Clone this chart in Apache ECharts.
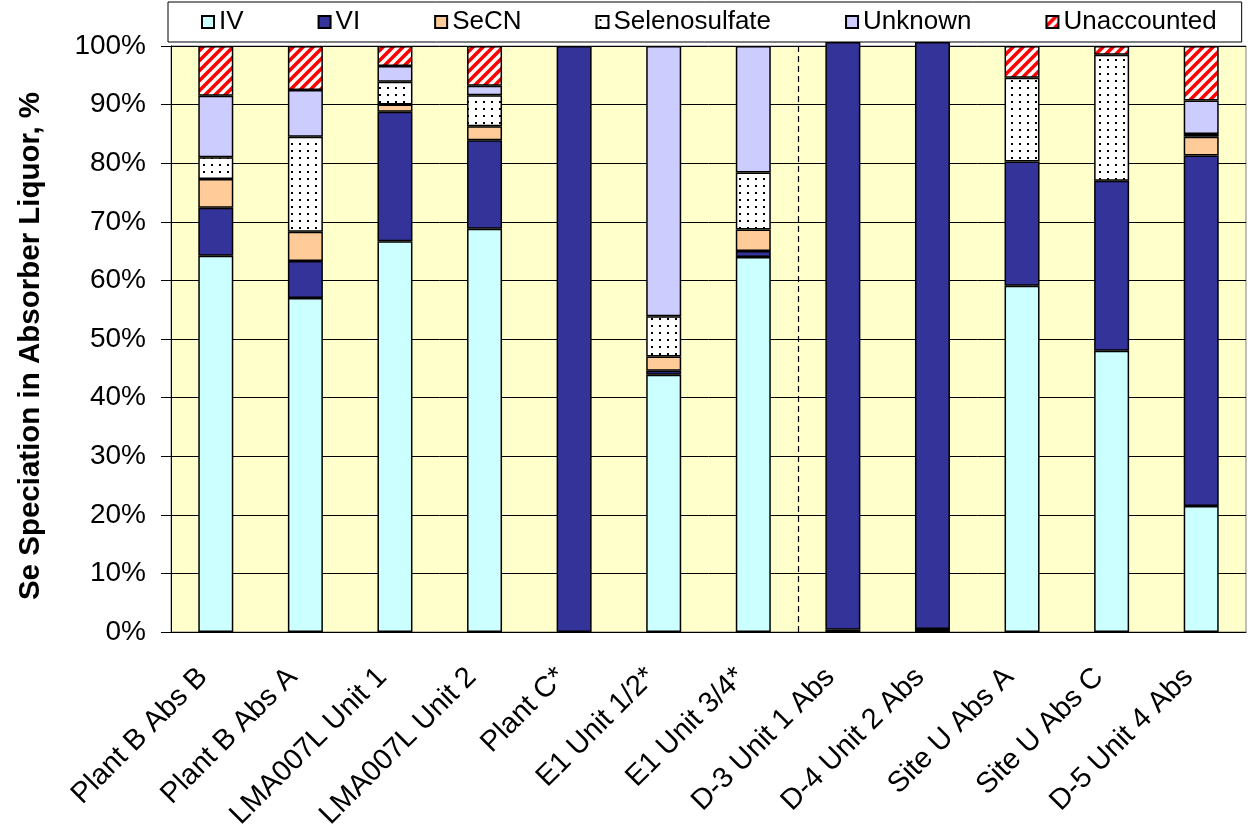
<!DOCTYPE html>
<html>
<head>
<meta charset="utf-8">
<script src="https://cdn.jsdelivr.net/npm/echarts@6/dist/echarts.min.js"></script>
<style>
html,body{margin:0;padding:0;background:#fff;}
#chart{width:1251px;height:837px;}
</style>
</head>
<body>
<div id="chart"></div>
<script>
var categories = ["Plant B Abs B","Plant B Abs A","LMA007L Unit 1","LMA007L Unit 2","Plant C*","E1 Unit 1/2*","E1 Unit 3/4*","D-3 Unit 1 Abs","D-4 Unit 2 Abs","Site U Abs A","Site U Abs C","D-5 Unit 4 Abs"];
var seriesNames = ["IV","VI","SeCN","Selenosulfate","Unknown","Unaccounted"];
var ivValues      = [64.2, 57.0, 66.7, 68.8, 0,    43.9, 64.0, 0.4,   0.5,   59.1, 48.0, 21.5];
var viValues      = [8.2,  6.3,  22.1, 15.1, 100,  0.7,  1.0,  100.3, 100.2, 21.2, 29.0, 59.8];
var secnValues    = [4.9,  5.0,  1.2,  2.4,  0,    2.4,  3.7,  0,     0,     0,    0,    3.2];
var selenoValues  = [3.7,  16.2, 3.9,  5.3,  0,    6.9,  9.7,  0,     0,     14.3, 21.5, 0.5];
var unknownValues = [10.5, 8.0,  2.7,  1.6,  0,    46.1, 21.6, 0,     0,     0,    0,    5.7];
var unaccValues   = [8.5,  7.5,  3.4,  6.8,  0,    0,    0,    0,     0,     5.4,  1.5,  9.3];
var yTicks = {min: 0, max: 100, interval: 10};
var dividerPosition = 7; // boundary between category 7 and 8

function dotPattern(){
  var c = document.createElement('canvas');
  c.width = 8; c.height = 7;
  var g = c.getContext('2d');
  g.fillStyle = '#ffffff'; g.fillRect(0,0,8,7);
  g.fillStyle = '#000000'; g.fillRect(3,3,2,2);
  return c;
}
function stripePattern(){
  var c = document.createElement('canvas');
  var s = 10;
  c.width = s; c.height = s;
  var g = c.getContext('2d');
  g.fillStyle = '#ffffff'; g.fillRect(0,0,s,s);
  g.strokeStyle = '#ff0000'; g.lineWidth = 3.6;
  g.beginPath();
  g.moveTo(-2, s+2); g.lineTo(s+2, -2);
  g.moveTo(-s/2-2, s/2+2); g.lineTo(s/2+2, -s/2-2);
  g.moveTo(s/2-2, 1.5*s+2); g.lineTo(1.5*s+2, s/2-2);
  g.stroke();
  return c;
}

var fills = [
  '#CCFFFF',
  '#333399',
  '#FFCC99',
  {image: dotPattern(), repeat: 'repeat'},
  '#CCCCFF',
  {image: stripePattern(), repeat: 'repeat'}
];
var valueLists = [ivValues, viValues, secnValues, selenoValues, unknownValues, unaccValues];

var series = seriesNames.map(function(name, i){
  return {
    name: name,
    type: 'bar',
    stack: 'total',
    barWidth: 35,
    clip: i !== 1,
    data: valueLists[i].map(function(v){ return v === 0 ? '-' : v; }),
    itemStyle: {color: fills[i], borderColor: '#000', borderWidth: 1.5},
    emphasis: {disabled: true}
  };
});
series.push({
  name: 'divider',
  type: 'line',
  xAxisIndex: 1,
  data: [],
  silent: true,
  markLine: {
    silent: true,
    symbol: ['none','none'],
    label: {show: false},
    lineStyle: {type: [6,4], color: '#000', width: 1.2},
    data: [{xAxis: dividerPosition}]
  }
});

var font = 'Liberation Sans, Arial, sans-serif';
var chart = echarts.init(document.getElementById('chart'));
chart.setOption({
  animation: false,
  backgroundColor: '#ffffff',
  legend: {
    data: seriesNames,
    left: 168, top: 2,
    padding: [7, 25, 7, 33],
    itemGap: 74,
    itemWidth: 12, itemHeight: 12,
    icon: 'rect',
    borderColor: '#000', borderWidth: 1,
    backgroundColor: '#ffffff',
    z: 10,
    textStyle: {fontFamily: font, fontSize: 26, color: '#000'}
  },
  grid: {
    left: 171, right: 5, top: 46, bottom: 205,
    show: true, backgroundColor: '#FFFFCC', borderColor: '#808080', borderWidth: 1
  },
  xAxis: [{
    type: 'category',
    data: categories,
    axisLine: {lineStyle: {color: '#000', width: 1}},
    axisTick: {length: 10, lineStyle: {color: '#000'}},
    axisLabel: {interval: 0, rotate: 45, margin: 28, padding: [0, 18, 0, 0], fontFamily: font, fontSize: 29, color: '#000'}
  }, {
    type: 'value', min: 0, max: categories.length, show: false
  }],
  yAxis: {
    type: 'value',
    min: yTicks.min, max: yTicks.max, interval: yTicks.interval,
    name: 'Se Speciation in Absorber Liquor, %',
    nameLocation: 'middle', nameRotate: 90, nameGap: 125,
    nameTextStyle: {fontFamily: font, fontSize: 29.5, fontWeight: 'bold', color: '#000', padding: [0, 14, 0, 0]},
    axisLine: {show: true, lineStyle: {color: '#000', width: 1}},
    axisTick: {show: true, length: 10, lineStyle: {color: '#000'}},
    axisLabel: {formatter: '{value}%', margin: 25, fontFamily: font, fontSize: 28, color: '#000'},
    splitLine: {show: true, lineStyle: {color: '#000', width: 1}}
  },
  series: series
});
</script>
</body>
</html>
